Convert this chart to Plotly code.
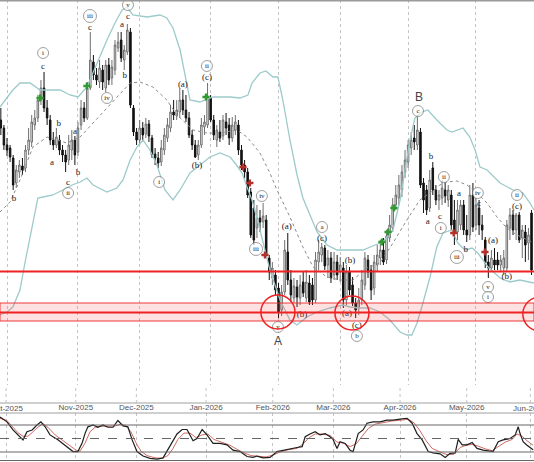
import plotly.graph_objects as go
import pandas as pd

# ---------------- price candles (daily, index 0 = 29 Sep 2025) ----------------
open_ = [283,275,258,255,245,220,231,237,235,253,261,278,285,303,315,295,283,263,258,263,
         253,248,243,253,263,251,278,295,285,315,341,328,321,333,315,338,325,333,355,363,
         343,351,371,295,271,263,275,269,279,265,249,245,241,253,265,275,291,287,291,303,
         293,285,268,258,248,258,276,278,305,283,263,271,267,281,278,265,273,278,253,238,
         231,211,195,175,185,181,183,145,125,128,115,93,111,151,123,105,116,105,121,105,
         120,118,103,141,148,155,138,145,128,141,131,135,103,131,118,100,95,103,118,143,
         133,115,138,145,153,143,165,175,198,205,213,231,241,255,265,258,271,220,213,195,
         235,213,203,205,213,203,208,183,171,178,198,173,168,208,178,195,178,163,141,135,
         143,143,138,135,135,175,188,173,188,165,171,160,190]
high = [295,278,265,258,248,238,243,245,258,275,288,293,308,323,331,303,288,271,275,268,
        258,253,268,273,267,281,303,301,321,371,348,335,343,338,343,345,343,363,371,371,
        358,379,375,298,275,283,281,285,283,268,255,251,263,275,285,298,303,303,315,313,
        308,291,273,263,263,285,288,320,308,288,278,283,288,290,285,286,288,283,258,243,
        235,215,203,198,193,200,188,148,141,133,120,118,163,170,133,125,123,128,131,133,
        128,125,151,163,160,158,153,151,151,148,146,141,138,136,126,105,115,133,151,148,
        138,148,158,163,165,173,188,205,218,228,238,253,263,271,278,288,275,225,218,233,
        241,218,213,223,220,218,213,203,203,203,203,188,218,220,205,203,188,166,148,153,
        155,151,148,153,183,195,193,190,191,178,178,175,193]
low = [268,253,247,241,213,215,225,228,231,248,256,273,281,298,291,278,258,253,255,248,
       241,231,238,243,238,247,273,281,283,313,323,318,315,313,311,318,318,328,351,341,
       333,348,295,267,258,258,263,265,261,245,238,235,237,248,261,271,283,283,285,288,
       281,265,253,245,243,255,268,275,281,263,256,261,263,268,258,261,268,248,233,225,
       205,165,158,165,171,175,145,123,118,108,85,87,108,118,101,100,96,98,106,101,
       98,98,100,133,141,133,125,120,123,123,121,95,98,108,97,85,88,98,113,125,
       103,108,131,138,138,139,161,171,193,198,206,225,235,248,253,253,215,190,188,191,
       208,198,193,198,200,196,173,158,163,173,168,161,163,171,173,168,163,135,125,131,
       133,133,131,128,131,163,168,163,160,145,141,143,128]
close = [275,258,253,246,218,233,238,233,253,263,281,285,303,315,295,285,263,258,266,253,
         248,241,258,263,248,275,295,285,315,343,328,323,335,321,338,323,336,358,361,345,
         353,373,298,271,263,275,268,279,267,248,245,240,255,268,278,291,288,293,303,293,
         285,268,258,246,258,278,281,306,283,268,273,265,283,275,265,278,281,253,238,231,
         208,168,163,185,181,187,148,131,135,113,91,111,153,123,108,117,106,118,110,121,
         101,103,143,151,156,137,145,125,141,128,138,103,131,113,100,93,103,123,145,131,
         113,141,148,153,141,167,178,198,208,218,231,243,258,263,261,273,218,203,193,223,
         213,203,208,215,207,213,178,170,193,198,173,168,208,176,198,178,173,140,135,145,
         138,138,143,145,178,188,173,188,163,173,158,168,133]

# ---------------- Bollinger bands ----------------
bb_up_day = [-0.3,3.9,6.2,9.5,12.7,15.9,19.2,22.4,25,27.9,31.2,34.4,37,39.3,40.9,42.8,47.4,51.6,
             53.8,55.8,58.1,61.3,64.5,68.8,74.3,77.5,80.1,81.4,84,85.9,88.2,89.8,91.4,93.7,96,
             97.9,100.2,102.5,105.7,109,112.2,114.8,117.4,121.3,123.8,127.1,129.4,131,132.6,
             134.2,136.5,138.4,141.3,144.6,146.2,149.8,152,153.7,155.3,157.6,161.8,166,169.2,
             171.5,172.8]
bb_up = [296,313,320,320,313,313,313,308,306,316,340,363,380,393,396,388,386,388,385,375,353,
         303,301,306,306,305,308,320,330,332,326,326,303,263,228,205,188,171,158,153,153,153,
         153,158,161,173,203,233,263,285,291,293,283,273,271,275,266,253,236,233,220,213,210,
         200,193]
bb_mid_day = [-0.3,3,6.2,10.4,15,21.4,25.7,29.9,34.4,38.6,41.9,45.1,49.3,53.8,57.1,62.3,66.8,
              71,76.5,79.8,84,87.2,89.5,93.7,97.9,101.2,105.7,109.9,114.1,118.7,122.9,127.1,
              131.6,135.8,139.1,142.3,144.6,147.8,151.1,154.3,157.6,160.8,164,167.3,170.5,172.8]
bb_mid = [191,201,223,256,266,260,266,280,296,310,320,321,316,303,288,273,270,270,273,266,250,
          230,213,186,156,136,126,123,123,135,140,160,183,203,210,218,221,222,218,210,200,186,
          175,168,163,160]
bb_lo_day = [-0.3,2,3.9,6.2,7.8,9.5,11.1,12,13.7,16.9,20.1,23.1,25.7,27.9,29.9,34.4,37.6,39.6,
             41.9,44.1,46.1,48.3,50.6,53.2,55.8,58.1,61.3,64.5,67.8,71,74.3,75.9,78.2,79.8,81.4,
             84,87.2,90.5,93.7,96,99.2,102.5,106.7,110.9,113.2,116.4,119.6,122.9,126.1,129.4,
             131.6,133.2,134.9,136.8,139.1,141.3,143.3,146.2,148.1,150.4,152.7,154.6,157.9,
             161.8,165,168.2,171.5,172.8]
bb_lo = [88,91,96,113,140,166,193,205,206,208,213,218,221,225,218,211,215,223,243,256,263,253,
         238,213,203,213,230,238,246,250,246,240,230,216,203,173,133,103,83,78,86,91,95,98,96,
         95,95,91,83,71,68,68,80,100,126,156,170,173,160,153,155,150,136,125,121,123,121,120]

# ---------------- support / resistance levels ----------------
resistance_level = 131.5
zone_low, zone_mid, zone_high = 82, 90.5, 100
ring_day = [89.8, 113.8, 174.7]
ring_price = [91, 90, 89]

# ---------------- Elliott wave labels ----------------
plain_text = ["c","b","a","b","c","a","b","c","a","b","c","a","b","c","a","b","c"]
plain_day = [13.7,4.3,16.6,18.8,21.8,24.0,25.0,28.9,39.3,40.2,41.2,138.4,139.4,142.3,148.5,150.7,155.0]
plain_price = [336,204,240,279,220,271,230,375,378,327,386,181,246,186,209,153,199]

paren_text = ["(a)","(b)","(c)","(a)","(b)","(c)","(b)","(a)","(c)","(a)","(b)","(c)"]
paren_day = [59.0,63.6,66.8,92.7,97.6,104.1,113.2,112.2,115.4,159.5,164.0,167.3]
paren_price = [318,237,325,176,88,164,142,89,77,162,126,196]

circ_text = ["i","iii","ii","iv","v","i","ii","iv","iii","v","a","b","c","ii","i","iii","iv","v","i","ii"]
circ_day = [13.7,28.9,21.8,34.4,41.2,51.3,66.8,84.6,82.7,89.8,104.1,115.4,135.2,143.6,142.6,
            147.8,154.6,157.9,157.9,167.3]
circ_price = [350,387,210,305,398,221,337,207,154,76,176,67,292,226,175,146,210,116,106,208]

big_text = ["A", "B"]
big_day = [89.8, 135.5]
big_price = [61, 305]

buy_day = [12.7, 27.9, 66.5, 123.5, 125.5, 127.4]
buy_price = [305, 317, 306, 161, 171, 195]
sell_day = [78.5, 80.7, 85.6, 146.8, 156.9]
sell_price = [236, 220, 148, 170, 151]

# ---------------- stochastic oscillator ----------------
k_day = [0,2.3,4.3,5.9,7.6,8.9,10.6,12.2,13.5,14.9,16.5,19.1,22.1,24.1,25.7,27.1,28.1,29,30.7,32.3,
         34,35.6,37.3,38.9,40.6,42.2,43.6,45.2,47.2,49.5,51.8,53.8,55.1,57.1,58.4,60.1,61.7,63.7,
         65,66.7,68.3,70.3,72.6,74.9,76.9,79.2,81.5,83.5,84.8,86.8,89.1,91.4,93.4,95.7,98,99.7,
         100.7,102.3,104,105.6,107.3,108.9,109.9,111.2,112.2,113.9,115.5,116.5,118.2,119.8,121.1,
         123.1,125.4,127.7,129.7,132,134.3,136,137.6,139.3,141.3,142.9,145.2,146.9,148.5,150.2,
         151.2,152.5,154.1,155.8,157.4,159.4,161.7,162.7,164.4,166,168.3,170,171,171.6,172.6,
         173.9,175.9]
k_val = [98,87,69,58,47,65,69,80,87,76,58,47,32,21,21,40,62,76,80,75,80,75,75,90,78,76,47,21,11,
         6,4,7,22,45,60,70,70,45,50,70,58,39,39,36,24,21,10,8,11,7,8,21,24,28,30,32,54,60,65,58,
         61,54,48,28,43,39,24,21,61,69,84,87,87,91,91,93,95,84,61,47,21,18,16,8,17,18,48,36,36,
         41,28,24,21,21,43,47,50,58,76,61,43,35,25]
d_day = [0,2.3,4.3,5.9,7.6,9.2,10.9,12.5,14.2,15.8,18.2,20.5,23.1,25.1,26.4,28.1,29.7,31.4,33,
         35.6,38,39.9,41.6,43.2,44.9,46.5,48.5,51.2,53.5,55.4,57.1,58.7,60.7,62.7,64.7,66.7,68.6,
         70.6,73.3,75.9,78.2,80.5,82.8,85.1,87.8,90.1,92.4,95,98,100,102,104,106.3,108.9,111.2,
         113.2,115.5,117.5,119.5,121.5,123.8,126.4,129.4,132.7,134.7,136.6,138.6,140.6,142.6,
         145.2,147.5,149.8,151.8,153.8,155.8,157.8,160.1,162.4,164.4,166.7,169,170.6,172.3,
         173.9,175.9]
d_val = [95,90,75,63,55,55,65,75,83,75,58,47,33,24,22,40,65,75,77,77,78,82,78,65,40,22,12,7,6,
         12,28,48,62,62,52,58,60,48,42,35,26,18,12,10,9,13,20,25,28,38,52,60,60,57,42,40,32,38,
         55,72,82,86,89,91,93,85,67,45,28,20,14,15,30,35,37,33,27,23,32,42,48,60,55,45,35]
osc_levels = [80, 50, 20]

# ---------------- calendar ----------------
dates = pd.bdate_range("2025-09-29", periods=177)
month_idx = [i for i in range(1, len(dates)) if dates[i].month != dates[i - 1].month]
month_lbl = [dates[i].strftime("%b-%Y") for i in month_idx]
n = len(close)
days = list(range(n))

H = 462
def py(px):
    return (H - px) / H

fig = go.Figure()

band_col = "#9dcaca"
fig.add_trace(go.Scatter(x=bb_up_day, y=bb_up, mode="lines", line=dict(color=band_col, width=1.3),
                         hoverinfo="skip", showlegend=False))
fig.add_trace(go.Scatter(x=bb_lo_day, y=bb_lo, mode="lines", line=dict(color=band_col, width=1.3),
                         hoverinfo="skip", showlegend=False))
fig.add_trace(go.Scatter(x=bb_mid_day, y=bb_mid, mode="lines",
                         line=dict(color="#8a8a8a", width=1, dash="dot"),
                         hoverinfo="skip", showlegend=False))

fig.add_trace(go.Candlestick(
    x=days, open=open_, high=high, low=low, close=close,
    increasing=dict(line=dict(color="#6f6f6f", width=1), fillcolor="#ffffff"),
    decreasing=dict(line=dict(color="#111111", width=1), fillcolor="#111111"),
    whiskerwidth=0, showlegend=False, hoverinfo="skip"))

fig.add_trace(go.Scatter(x=buy_day, y=buy_price, mode="markers",
                         marker=dict(symbol="cross", size=6, color="#2f9a2f"),
                         hoverinfo="skip", showlegend=False))
fig.add_trace(go.Scatter(x=sell_day, y=sell_price, mode="markers",
                         marker=dict(symbol="cross", size=6, color="#b5302a"),
                         hoverinfo="skip", showlegend=False))

serif = "Liberation Serif"
fig.add_trace(go.Scatter(x=plain_day, y=plain_price, mode="text", text=plain_text,
                         textfont=dict(family=serif, size=9, color="#222"),
                         hoverinfo="skip", showlegend=False))
fig.add_trace(go.Scatter(x=paren_day, y=paren_price, mode="text", text=paren_text,
                         textfont=dict(family=serif, size=9, color="#222"),
                         hoverinfo="skip", showlegend=False))
fig.add_trace(go.Scatter(x=circ_day, y=circ_price, mode="markers+text", text=circ_text,
                         textposition="middle center",
                         marker=dict(symbol="circle", size=[13 if len(t) > 2 else 11 for t in circ_text],
                                     color="white", line=dict(color="#555", width=0.8)),
                         textfont=dict(family=serif, size=7, color="#222"),
                         hoverinfo="skip", showlegend=False))
fig.add_trace(go.Scatter(x=big_day, y=big_price, mode="text", text=big_text,
                         textfont=dict(family="Liberation Sans", size=12, color="#444"),
                         hoverinfo="skip", showlegend=False))

# oscillator
fig.add_trace(go.Scatter(x=d_day, y=d_val, mode="lines", line=dict(color="#cf6b64", width=1),
                         xaxis="x2", yaxis="y2", hoverinfo="skip", showlegend=False))
fig.add_trace(go.Scatter(x=k_day, y=k_val, mode="lines", line=dict(color="#1e1e1e", width=1.2),
                         xaxis="x2", yaxis="y2", hoverinfo="skip", showlegend=False))

shapes = []
shapes.append(dict(type="rect", xref="paper", x0=0, x1=1, yref="y", y0=zone_low, y1=zone_high,
                   fillcolor="rgba(255,70,70,0.16)", line=dict(color="rgba(235,40,40,0.9)", width=1)))
shapes.append(dict(type="line", xref="paper", x0=0, x1=1, yref="y", y0=zone_mid, y1=zone_mid,
                   line=dict(color="#ee2222", width=2)))
shapes.append(dict(type="line", xref="paper", x0=0, x1=1, yref="y", y0=resistance_level,
                   y1=resistance_level, line=dict(color="#ee2222", width=2)))
for d, p in zip(ring_day, ring_price):
    shapes.append(dict(type="circle", xref="x", yref="y", xsizemode="pixel", ysizemode="pixel",
                       xanchor=d, yanchor=p, x0=-17, x1=17, y0=-17, y1=17,
                       line=dict(color="#ee2222", width=1.5)))
shapes.append(dict(type="line", xref="paper", x0=0, x1=1, yref="paper", y0=1, y1=1,
                   line=dict(color="#9a9a9a", width=3)))
for ypx, col in [(403, "#a0a0a0"), (413, "#a0a0a0"), (460.5, "#666666")]:
    shapes.append(dict(type="line", xref="paper", x0=0, x1=1, yref="paper", y0=py(ypx), y1=py(ypx),
                       line=dict(color=col, width=1)))
for m in month_idx:
    shapes.append(dict(type="line", xref="x2", x0=m, x1=m, yref="paper", y0=py(403), y1=py(385),
                       line=dict(color="#c4c4c4", width=1, dash="dot")))
for lv in osc_levels:
    shapes.append(dict(type="line", xref="paper", x0=0, x1=1, yref="y2", y0=lv, y1=lv,
                       line=dict(color="#666666", width=1, dash="dash" if lv == 50 else "solid")))

# month labels: inner ones as tick labels, the two clipped edge ones as annotations
inner_text = ["" if k in (0, len(month_idx) - 1) else t for k, t in enumerate(month_lbl)]
tick_font = dict(family="Liberation Sans", size=8, color="#555")
edge_ann = [dict(x=month_idx[k], xref="x2", y=py(408), yref="paper", text=month_lbl[k],
                 showarrow=False, font=tick_font, xanchor="center", yanchor="middle")
            for k in (0, len(month_idx) - 1)]

fig.update_layout(
    width=534, height=462, margin=dict(l=0, r=0, t=0, b=0),
    paper_bgcolor="white", plot_bgcolor="white", hovermode=False, showlegend=False,
    shapes=shapes, annotations=edge_ann,
    xaxis=dict(domain=[0, 1], anchor="y", range=[-0.27, 172.8], tickvals=[m for m in month_idx if m < n],
               showticklabels=False, ticks="", showgrid=True, gridcolor="#c4c4c4", griddash="dot",
               gridwidth=1, zeroline=False, showline=False, rangeslider=dict(visible=False)),
    yaxis=dict(domain=[py(385), 1], range=[18, 403], showgrid=False, showticklabels=False,
               zeroline=False, ticks=""),
    xaxis2=dict(domain=[0, 1], anchor="y2", range=[0, 176.2], tickvals=month_idx, ticktext=inner_text,
                side="top", ticks="", showgrid=True, gridcolor="#c4c4c4", griddash="dot", gridwidth=1,
                zeroline=False, showline=False, tickfont=tick_font),
    yaxis2=dict(domain=[py(461), py(413)], range=[0, 106.7], showgrid=False, showticklabels=False,
                zeroline=False, ticks=""),
)

fig.write_html("out.html", config={"displayModeBar": False},
               post_script="document.body.style.margin='0';document.body.style.overflow='hidden';")
